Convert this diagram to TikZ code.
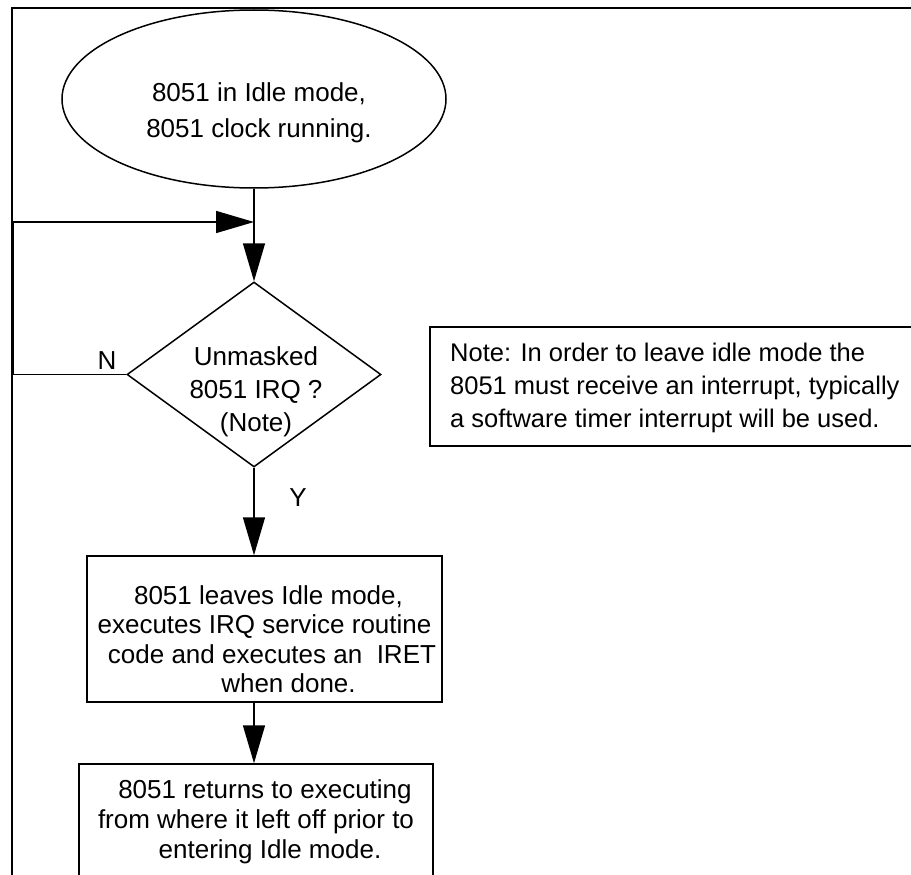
\documentclass[tikz,border=0pt]{standalone}
\usepackage{fontspec}
\setmainfont{Liberation Sans}
\usetikzlibrary{shapes.geometric,arrows.meta}
\begin{document}
\begin{tikzpicture}[x=1pt,y=-1pt,
  every node/.style={font=\fontsize{26}{30}\selectfont},
  ln/.style={line width=1.5pt},
  arr/.style={ln,-{Triangle[length=38pt,width=22pt]}},
  box/.style={draw,ln,rectangle,inner sep=0pt},
  txt/.style={align=center,inner sep=0pt},
]
\useasboundingbox (0,0) rectangle (911,875);
\clip (0,0) rectangle (911,875);
\fill[white] (0,0) rectangle (911,875);
% frame
\draw[line width=2pt] (12,890) -- (12,8) -- (930,8);

% start ellipse
\node[draw,ln,ellipse,minimum width=384pt,minimum height=178pt,inner sep=0pt,
  label={[name=idletxt,txt,xshift=5pt,yshift=-14pt,font=\fontsize{26}{36}\selectfont]center:8051 in Idle mode,\\8051 clock running.}]
  (idle) at (254,99) {};

% decision
\node[draw,ln,diamond,minimum width=254pt,minimum height=185pt,inner sep=0pt,
  label={[name=dectxt,txt,xshift=2pt,yshift=-17pt,font=\fontsize{26}{33}\selectfont]center:Unmasked\\8051 IRQ ?\\(Note)}]
  (dec) at (254,374.5) {};

% box 1
\node[box,minimum width=355pt,minimum height=146pt,
  label={[name=b1txt,txt,yshift=-10pt,font=\fontsize{26}{29.5}\selectfont]center:\hspace*{8pt}8051 leaves Idle mode,\\executes IRQ service routine\\\hspace*{15pt}code and executes an\ \ IRET\\\hspace*{48pt}when done.}]
  (box1) at (264.5,629) {};

% box 2 (cut off at bottom)
\node[box,minimum width=354pt,minimum height=150pt,
  label={[name=b2txt,txt,yshift=17pt,font=\fontsize{26}{30}\selectfont]center:\hspace*{18pt}8051 returns to executing\\from where it left off prior to\\\hspace*{28pt}entering Idle mode.}]
  (box2) at (256,839) {};

% note box (cut off at right)
\node[box,minimum width=560pt,minimum height=119pt,anchor=north west,
  label={[name=notetxt,anchor=west,align=left,inner sep=0pt,xshift=21pt,yshift=-2pt,font=\fontsize{25.5}{33}\selectfont]west:Note: In order to leave idle mode the\\8051 must receive an interrupt, typically\\a software timer interrupt will be used.}]
  (note) at (429,326) {};

% connectors
\coordinate (merge) at (254,222);
\draw[arr] (idle.south) -- (dec.north);
\draw[arr] (dec.west) -- ++(-113,0) |- (merge);
\draw[arr] (dec.south) -- (dec.south |- box1.north);
\draw[arr] (dec.south |- box1.south) -- (dec.south |- box2.north);

% branch labels
\node[inner sep=0pt] (nlab) at (107,361) {N};
\node[inner sep=0pt] (ylab) at (298,498) {Y};
\end{tikzpicture}
\end{document}
